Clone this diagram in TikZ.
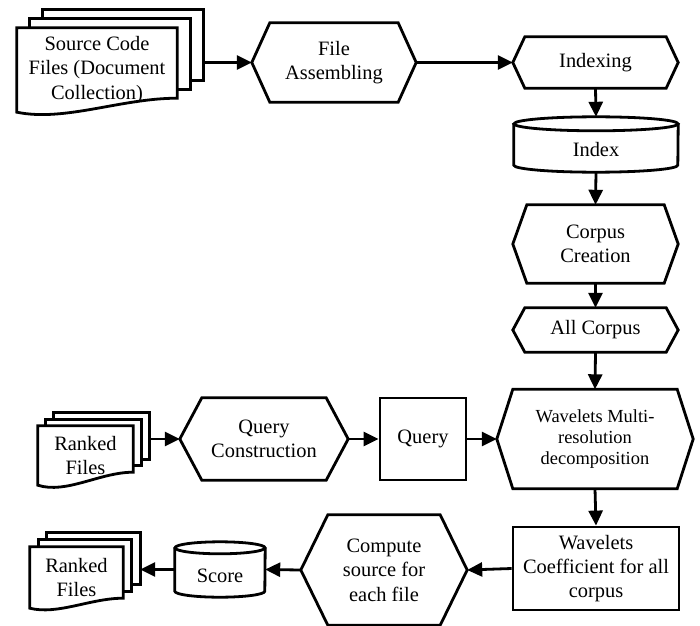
\documentclass[tikz,border=0pt]{standalone}
\usepackage{fontspec}
\setmainfont{Liberation Serif}
\usetikzlibrary{arrows.meta,calc}

\newcommand{\bigtext}{\fontsize{20.5}{24.5}\selectfont}
\newcommand{\smalltext}{\fontsize{18.5}{21.5}\selectfont}

%hexagon round a node: node name, depth of the points
\newcommand{\hexshape}[2]{%
  \draw[line width=2.8bp] (#1.west) -- ([xshift=#2]#1.north west) -- ([xshift=-#2]#1.north east)
    -- (#1.east) -- ([xshift=-#2]#1.south east) -- ([xshift=#2]#1.south west) -- cycle;}
%cylinder round a node: node name, x radius, y radius
\newcommand{\dbshape}[3]{%
  \draw[line width=2.8bp] ([yshift=-#3]#1.north) ellipse [x radius=#2, y radius=#3];
  \draw[line width=2.8bp] ([yshift=-#3]#1.north west) -- ([yshift=#3]#1.south west)
    arc [start angle=180, end angle=360, x radius=#2, y radius=#3] -- ([yshift=-#3]#1.north east);}
%stack of documents: node name, x offset, y offset, rise of the wave
\newcommand{\docshape}[4]{%
  \draw[line width=2.8bp] (#1.north west) -- (#1.north east) -- ([yshift=#4]#1.south east)
    .. controls ($(#1.south east)!0.35!(#1.south west)+(0pt,#4)$)
    and ($(#1.south west)!0.3!(#1.south east)+(0pt,-0.7*#4)$) .. (#1.south west) -- cycle;
  \foreach \k in {1,2}
    \draw[line width=2.8bp] ([shift={(\k*#2,\k*#3-#3)}]#1.north west) -- ([shift={(\k*#2,\k*#3)}]#1.north west)
      -- ([shift={(\k*#2,\k*#3)}]#1.north east) -- ([shift={(\k*#2,\k*#3+#4)}]#1.south east)
      -- ([shift={(\k*#2-#2,\k*#3+#4)}]#1.south east);
  \coordinate (#1-back) at ([xshift=2*#2]#1.east);}

\tikzset{
  txt/.style={font=\bigtext, align=center, inner sep=0pt},
  procbox/.style={txt, draw, line width=2.8bp},
  dbtxt/.style={txt, text height=25bp, text depth=0pt},
  arr/.style={line width=2.8bp, -{Triangle[length=15bp,width=14bp]}}
}

\begin{document}
\begin{tikzpicture}[x=1bp,y=-1bp]
\useasboundingbox (0,0) rectangle (700,626);
%первая строка
\node[txt, minimum width=160bp, minimum height=84bp] (src) at (97,70) {Source Code\\Files (Document\\Collection)};
\docshape{src}{13bp}{9bp}{14bp}
\node[txt, minimum width=164bp, minimum height=79bp] (fa) at (334,62.5) {File\\Assembling};
\hexshape{fa}{18bp}
\node[txt, minimum width=165bp, minimum height=51bp] (idx) at (595.5,62.5) {Indexing};
\hexshape{idx}{12bp}
%правый столбец
\node[dbtxt, minimum width=164bp, minimum height=55bp] (index) at (596,144.5) {Index};
\dbshape{index}{82bp}{7bp}
\node[txt, minimum width=165bp, minimum height=78bp] (cc) at (595.5,244) {Corpus\\Creation};
\hexshape{cc}{14bp}
\node[txt, minimum width=165bp, minimum height=44bp] (ac) at (595.5,330) {All Corpus};
\hexshape{ac}{12bp}
\node[txt, font=\smalltext, minimum width=196bp, minimum height=99bp] (wm) at (595,439) {Wavelets Multi-\\resolution\\decomposition};
\hexshape{wm}{16bp}
\node[procbox, minimum width=166bp, minimum height=83bp] (coef) at (596,568.5) {Wavelets\\Coefficient for all\\corpus};
%строка запроса
\node[txt, minimum width=95bp, minimum height=59bp] (rf1) at (85.5,455.5) {Ranked\\Files};
\docshape{rf1}{8bp}{6.5bp}{13bp}
\node[txt, minimum width=168bp, minimum height=82bp] (qc) at (264,439) {Query\\Construction};
\hexshape{qc}{22bp}
\node[procbox, minimum width=86bp, minimum height=82bp] (q) at (423,439) {Query};
%нижняя строка
\node[txt, minimum width=166bp, minimum height=110bp] (comp) at (384,570) {Compute\\source for\\each file};
\hexshape{comp}{27bp}
\node[dbtxt, minimum width=90bp, minimum height=55bp] (score) at (220,569.5) {Score};
\dbshape{score}{45bp}{6bp}
\node[txt, minimum width=93bp, minimum height=61bp] (rf2) at (76.5,577.5) {Ranked\\Files};
\docshape{rf2}{8.5bp}{7bp}{10bp}
%стрелки
\draw[arr] (src-back |- fa.west) -- (fa.west);
\draw[arr] (fa.east) -- (idx.west);
\draw[arr] (idx.south) -- (index.north);
\draw[arr] (index.south) -- (cc.north);
\draw[arr] (cc.south) -- (ac.north);
\draw[arr] (ac.south) -- (wm.north);
\draw[arr] (wm.south) -- (coef.north);
\draw[arr] (rf1-back |- qc.west) -- (qc.west);
\draw[arr] (qc.east) -- (q.west);
\draw[arr] (q.east) -- (wm.west);
\draw[arr] (coef.west) -- (comp.east);
\draw[arr] (comp.west) -- (score.west -| score.east);
\draw[arr] (score.west) -- (rf2-back |- score.west);
\end{tikzpicture}
\end{document}
